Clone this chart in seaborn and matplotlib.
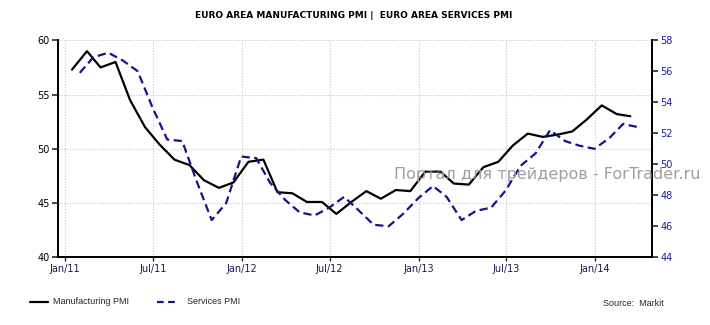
import numpy as np
import pandas as pd
import matplotlib
matplotlib.use("Agg")
import matplotlib.pyplot as plt
import matplotlib.dates as mdates
import seaborn as sns

# ---- data ----
manufacturing = [57.3, 59.0, 57.5, 58.0, 54.5, 52.0, 50.4, 49.0, 48.5, 47.1, 46.4, 46.9,
                 48.8, 49.0, 46.0, 45.9, 45.1, 45.1, 44.0, 45.1, 46.1, 45.4, 46.2, 46.1,
                 47.9, 47.9, 46.8, 46.7, 48.3, 48.8, 50.3, 51.4, 51.1, 51.3, 51.6, 52.7,
                 54.0, 53.2, 53.0]
services = [55.9, 56.9, 57.2, 56.7, 56.0, 53.7, 51.6, 51.5, 48.9, 46.4, 47.5, 50.5,
            50.4, 48.8, 47.7, 46.9, 46.7, 47.2, 47.9, 47.0, 46.1, 46.0, 46.8, 47.8,
            48.6, 47.9, 46.4, 47.0, 47.2, 48.3, 49.9, 50.7, 52.2, 51.5, 51.2, 51.0,
            51.7, 52.6, 52.4]
mfg_dates = pd.date_range("2011-01-01", periods=len(manufacturing), freq="MS") + pd.Timedelta(days=14)
svc_dates = pd.date_range("2011-01-31", periods=len(services), freq="ME")
tick_dates = pd.to_datetime(["2011-01-01", "2011-07-01", "2012-01-01", "2012-07-01",
                             "2013-01-01", "2013-07-01", "2014-01-01"])
tick_labels = ["Jan/11", "Jul/11", "Jan/12", "Jul/12", "Jan/13", "Jul/13", "Jan/14"]
left_ticks = [40, 45, 50, 55, 60]
right_ticks = [44, 46, 48, 50, 52, 54, 56, 58]

df_m = pd.DataFrame({"date": mfg_dates, "value": manufacturing})
df_s = pd.DataFrame({"date": svc_dates, "value": services})

sns.set_style("white")
plt.rcParams["font.family"] = ["DejaVu Sans"]

W, H = 710, 325
fig = plt.figure(figsize=(W / 100, H / 100), dpi=100)
ax = fig.add_axes([58 / W, 1 - 257.3 / H, (652 - 58) / W, (257.3 - 40.3) / H])
ax2 = ax.twinx()

navy = "#14148c"
sns.lineplot(data=df_m, x="date", y="value", ax=ax, color="black", linewidth=1.6, zorder=5)
sns.lineplot(data=df_s, x="date", y="value", ax=ax2, color=navy, linewidth=1.6,
             dashes=False, zorder=4)
ax2.lines[0].set_dashes([3.7, 2.0])

ax.set_xlim(pd.Timestamp("2010-12-17"), pd.Timestamp("2014-04-29"))
ax.set_ylim(40, 60)
ax2.set_ylim(44, 58)
ax.set_xticks(tick_dates)
ax.set_xticklabels(tick_labels)
ax.set_yticks(left_ticks)
ax2.set_yticks(right_ticks)
ax.set_xlabel("")
ax.set_ylabel("")
ax2.set_ylabel("")

ax.grid(True, linestyle=(0, (1, 1.5)), color="#c8c8c8", linewidth=0.8)
ax2.grid(False)
ax.set_axisbelow(True)

for a in (ax, ax2):
    a.spines["top"].set_visible(False)
    for s in ("left", "right", "bottom"):
        a.spines[s].set_color("black")
        a.spines[s].set_linewidth(1.3)

ax.tick_params(axis="y", which="both", left=True, length=4, width=1.2, labelsize=7,
               labelcolor="black", pad=2, direction="out")
ax.tick_params(axis="x", which="both", bottom=True, length=3, width=1.0, labelsize=7,
               labelcolor="#1a1a50", pad=2, direction="out")
ax2.tick_params(axis="y", right=True, length=4, width=1.2, labelsize=7,
                labelcolor="#1c1ca0", pad=2, direction="out")

fig.text(353.5 / W, 1 - 15 / H, "EURO AREA MANUFACTURING PMI |  EURO AREA SERVICES PMI",
         ha="center", va="center", fontsize=6.5, fontweight="bold", color="black")

fig.text(394 / W, 1 - 174 / H, "Портал для трейдеров - ForTrader.ru",
         ha="left", va="center", fontsize=11.5, color="#a59c9c", zorder=10)

# legend
fig.add_artist(plt.Line2D([30 / W, 48 / W], [1 - 302 / H] * 2, color="black", linewidth=1.6))
fig.text(53 / W, 1 - 302 / H, "Manufacturing PMI", ha="left", va="center",
         fontsize=6.5, family=["Liberation Sans"])
fig.add_artist(plt.Line2D([157 / W, 175 / W], [1 - 302 / H] * 2, color=navy,
                          linewidth=1.6, dashes=[3, 2]))
fig.text(187 / W, 1 - 302 / H, "Services PMI", ha="left", va="center",
         fontsize=6.5, family=["Liberation Sans"])
fig.text(603 / W, 1 - 304 / H, "Source:  Markit", ha="left", va="center",
         fontsize=6.5, family=["Liberation Sans"])

fig.savefig("out.png", dpi=100)
